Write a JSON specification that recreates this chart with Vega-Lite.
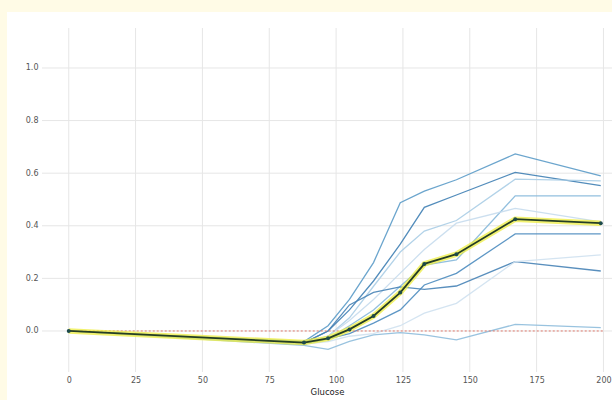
{
  "$schema": "https://vega.github.io/schema/vega-lite/v6.json",
  "width": 570,
  "height": 344,
  "autosize": {"type": "none"},
  "padding": {"left": 42, "top": 28, "right": 0, "bottom": 28},
  "background": "#fffbe6",
  "config": {
    "view": {"stroke": null},
    "axis": {"grid": false, "domain": false, "ticks": false, "labelFontSize": 8, "labelColor": "#555555", "labelFont": "DejaVu Sans", "titleFont": "DejaVu Sans", "titleFontSize": 8.5, "titleFontWeight": "normal", "titleColor": "#222222"},
    "axisX": {"labelPadding": 4, "titlePadding": 3},
    "axisY": {"labelPadding": 4}
  },
  "datasets": {
    "one": [{"k": 1}],
    "ice": [
      {"id": "L1", "Glucose": 0, "value": 0}, {"id": "L1", "Glucose": 88, "value": -0.04}, {"id": "L1", "Glucose": 97, "value": 0.02}, {"id": "L1", "Glucose": 105, "value": 0.12}, {"id": "L1", "Glucose": 114, "value": 0.26}, {"id": "L1", "Glucose": 124, "value": 0.488}, {"id": "L1", "Glucose": 133, "value": 0.532}, {"id": "L1", "Glucose": 145, "value": 0.575}, {"id": "L1", "Glucose": 167, "value": 0.673}, {"id": "L1", "Glucose": 199, "value": 0.59},
      {"id": "L2", "Glucose": 0, "value": 0}, {"id": "L2", "Glucose": 88, "value": -0.045}, {"id": "L2", "Glucose": 97, "value": 0.0}, {"id": "L2", "Glucose": 105, "value": 0.08}, {"id": "L2", "Glucose": 114, "value": 0.19}, {"id": "L2", "Glucose": 124, "value": 0.33}, {"id": "L2", "Glucose": 133, "value": 0.47}, {"id": "L2", "Glucose": 145, "value": 0.517}, {"id": "L2", "Glucose": 167, "value": 0.603}, {"id": "L2", "Glucose": 199, "value": 0.553},
      {"id": "L3", "Glucose": 0, "value": 0}, {"id": "L3", "Glucose": 88, "value": -0.05}, {"id": "L3", "Glucose": 97, "value": -0.02}, {"id": "L3", "Glucose": 105, "value": 0.05}, {"id": "L3", "Glucose": 114, "value": 0.17}, {"id": "L3", "Glucose": 124, "value": 0.3}, {"id": "L3", "Glucose": 133, "value": 0.38}, {"id": "L3", "Glucose": 145, "value": 0.42}, {"id": "L3", "Glucose": 167, "value": 0.577}, {"id": "L3", "Glucose": 199, "value": 0.571},
      {"id": "L4", "Glucose": 0, "value": 0}, {"id": "L4", "Glucose": 88, "value": -0.05}, {"id": "L4", "Glucose": 97, "value": -0.03}, {"id": "L4", "Glucose": 105, "value": 0.02}, {"id": "L4", "Glucose": 114, "value": 0.08}, {"id": "L4", "Glucose": 124, "value": 0.17}, {"id": "L4", "Glucose": 133, "value": 0.25}, {"id": "L4", "Glucose": 145, "value": 0.27}, {"id": "L4", "Glucose": 167, "value": 0.514}, {"id": "L4", "Glucose": 199, "value": 0.514},
      {"id": "L5", "Glucose": 0, "value": 0}, {"id": "L5", "Glucose": 88, "value": -0.045}, {"id": "L5", "Glucose": 97, "value": -0.02}, {"id": "L5", "Glucose": 105, "value": 0.04}, {"id": "L5", "Glucose": 114, "value": 0.12}, {"id": "L5", "Glucose": 124, "value": 0.22}, {"id": "L5", "Glucose": 133, "value": 0.31}, {"id": "L5", "Glucose": 145, "value": 0.41}, {"id": "L5", "Glucose": 167, "value": 0.466}, {"id": "L5", "Glucose": 199, "value": 0.415},
      {"id": "L6", "Glucose": 0, "value": 0}, {"id": "L6", "Glucose": 88, "value": -0.05}, {"id": "L6", "Glucose": 97, "value": -0.03}, {"id": "L6", "Glucose": 105, "value": -0.01}, {"id": "L6", "Glucose": 114, "value": 0.03}, {"id": "L6", "Glucose": 124, "value": 0.08}, {"id": "L6", "Glucose": 133, "value": 0.175}, {"id": "L6", "Glucose": 145, "value": 0.219}, {"id": "L6", "Glucose": 167, "value": 0.369}, {"id": "L6", "Glucose": 199, "value": 0.369},
      {"id": "L7", "Glucose": 0, "value": 0}, {"id": "L7", "Glucose": 88, "value": -0.045}, {"id": "L7", "Glucose": 97, "value": 0.0}, {"id": "L7", "Glucose": 105, "value": 0.099}, {"id": "L7", "Glucose": 114, "value": 0.147}, {"id": "L7", "Glucose": 124, "value": 0.168}, {"id": "L7", "Glucose": 133, "value": 0.158}, {"id": "L7", "Glucose": 145, "value": 0.171}, {"id": "L7", "Glucose": 167, "value": 0.264}, {"id": "L7", "Glucose": 199, "value": 0.228},
      {"id": "L8", "Glucose": 0, "value": 0}, {"id": "L8", "Glucose": 88, "value": -0.05}, {"id": "L8", "Glucose": 97, "value": -0.04}, {"id": "L8", "Glucose": 105, "value": -0.02}, {"id": "L8", "Glucose": 114, "value": -0.01}, {"id": "L8", "Glucose": 124, "value": 0.02}, {"id": "L8", "Glucose": 133, "value": 0.068}, {"id": "L8", "Glucose": 145, "value": 0.105}, {"id": "L8", "Glucose": 167, "value": 0.264}, {"id": "L8", "Glucose": 199, "value": 0.289},
      {"id": "L9", "Glucose": 0, "value": 0}, {"id": "L9", "Glucose": 88, "value": -0.055}, {"id": "L9", "Glucose": 97, "value": -0.07}, {"id": "L9", "Glucose": 105, "value": -0.04}, {"id": "L9", "Glucose": 114, "value": -0.015}, {"id": "L9", "Glucose": 124, "value": -0.006}, {"id": "L9", "Glucose": 133, "value": -0.015}, {"id": "L9", "Glucose": 145, "value": -0.034}, {"id": "L9", "Glucose": 167, "value": 0.025}, {"id": "L9", "Glucose": 199, "value": 0.0125}
    ],
    "pdp": [
      {"Glucose": 0, "value": 0.0}, {"Glucose": 88, "value": -0.044}, {"Glucose": 97, "value": -0.028}, {"Glucose": 105, "value": 0.006}, {"Glucose": 114, "value": 0.057}, {"Glucose": 124, "value": 0.146}, {"Glucose": 133, "value": 0.255}, {"Glucose": 145, "value": 0.292}, {"Glucose": 167, "value": 0.425}, {"Glucose": 199, "value": 0.41}
    ],
    "gridx": [{"Glucose": 0}, {"Glucose": 25}, {"Glucose": 50}, {"Glucose": 75}, {"Glucose": 100}, {"Glucose": 125}, {"Glucose": 150}, {"Glucose": 175}, {"Glucose": 200}],
    "gridy": [{"value": 0}, {"value": 0.2}, {"value": 0.4}, {"value": 0.6}, {"value": 0.8}, {"value": 1.0}]
  },
  "layer": [
    {
      "data": {"name": "one"},
      "mark": {"type": "rect", "color": "white", "clip": false},
      "encoding": {
        "x": {"datum": -23.1, "type": "quantitative", "scale": {"domain": [-10, 203.2], "nice": false, "zero": false}, "axis": {"title": "Glucose", "values": [0, 25, 50, 75, 100, 125, 150, 175, 200], "zindex": 2}},
        "x2": {"datum": 400},
        "y": {"datum": -1, "type": "quantitative", "scale": {"domain": [-0.156, 1.152], "nice": false, "zero": false}, "axis": {"title": null, "values": [0, 0.2, 0.4, 0.6, 0.8, 1.0], "format": ".1f", "zindex": 2}},
        "y2": {"datum": 1.213}
      }
    },
    {
      "data": {"name": "gridx"},
      "mark": {"type": "rule", "color": "#e6e6e6", "strokeWidth": 1},
      "encoding": {
        "x": {"field": "Glucose", "type": "quantitative", "scale": {"domain": [-10, 203.2], "nice": false, "zero": false}, "axis": {"title": "Glucose", "values": [0, 25, 50, 75, 100, 125, 150, 175, 200], "zindex": 2}}
      }
    },
    {
      "data": {"name": "gridy"},
      "mark": {"type": "rule", "color": "#e6e6e6", "strokeWidth": 1},
      "encoding": {
        "y": {"field": "value", "type": "quantitative", "scale": {"domain": [-0.156, 1.152], "nice": false, "zero": false}, "axis": {"title": null, "values": [0, 0.2, 0.4, 0.6, 0.8, 1.0], "format": ".1f", "zindex": 2}}
      }
    },
    {
      "data": {"name": "ice"},
      "mark": {"type": "line", "strokeWidth": 1.3, "opacity": 0.9},
      "encoding": {
        "x": {"field": "Glucose", "type": "quantitative", "scale": {"domain": [-10, 203.2], "nice": false, "zero": false}, "axis": {"title": "Glucose", "values": [0, 25, 50, 75, 100, 125, 150, 175, 200], "zindex": 2}},
        "y": {"field": "value", "type": "quantitative", "scale": {"domain": [-0.156, 1.152], "nice": false, "zero": false}, "axis": {"title": null, "values": [0, 0.2, 0.4, 0.6, 0.8, 1.0], "format": ".1f", "zindex": 2}},
        "color": {"field": "id", "type": "nominal", "legend": null, "scale": {"domain": ["L1", "L2", "L3", "L4", "L5", "L6", "L7", "L8", "L9"], "range": ["#5b9bc8", "#3f80b4", "#aacde6", "#86b8da", "#c6dced", "#4c8cbf", "#4783b6", "#cfe1ef", "#8ebcdc"]}}
      }
    },
    {
      "data": {"name": "one"},
      "mark": {"type": "rule", "color": "#e07a6e", "strokeDash": [2, 2], "strokeWidth": 1},
      "encoding": {
        "x": {"datum": 0, "type": "quantitative", "scale": {"domain": [-10, 203.2], "nice": false, "zero": false}, "axis": {"title": "Glucose", "values": [0, 25, 50, 75, 100, 125, 150, 175, 200], "zindex": 2}},
        "x2": {"datum": 200},
        "y": {"datum": 0, "type": "quantitative", "scale": {"domain": [-0.156, 1.152], "nice": false, "zero": false}, "axis": {"title": null, "values": [0, 0.2, 0.4, 0.6, 0.8, 1.0], "format": ".1f", "zindex": 2}}
      }
    },
    {
      "data": {"name": "pdp"},
      "mark": {"type": "line", "color": "#eeee40", "strokeWidth": 5.5, "opacity": 0.75},
      "encoding": {
        "x": {"field": "Glucose", "type": "quantitative", "scale": {"domain": [-10, 203.2], "nice": false, "zero": false}, "axis": {"title": "Glucose", "values": [0, 25, 50, 75, 100, 125, 150, 175, 200], "zindex": 2}},
        "y": {"field": "value", "type": "quantitative", "scale": {"domain": [-0.156, 1.152], "nice": false, "zero": false}, "axis": {"title": null, "values": [0, 0.2, 0.4, 0.6, 0.8, 1.0], "format": ".1f", "zindex": 2}}
      }
    },
    {
      "data": {"name": "pdp"},
      "mark": {"type": "line", "color": "#243d26", "strokeWidth": 1.8},
      "encoding": {
        "x": {"field": "Glucose", "type": "quantitative", "scale": {"domain": [-10, 203.2], "nice": false, "zero": false}, "axis": {"title": "Glucose", "values": [0, 25, 50, 75, 100, 125, 150, 175, 200], "zindex": 2}},
        "y": {"field": "value", "type": "quantitative", "scale": {"domain": [-0.156, 1.152], "nice": false, "zero": false}, "axis": {"title": null, "values": [0, 0.2, 0.4, 0.6, 0.8, 1.0], "format": ".1f", "zindex": 2}}
      }
    },
    {
      "data": {"name": "pdp"},
      "mark": {"type": "circle", "color": "#1d4a4a", "size": 16, "opacity": 1},
      "encoding": {
        "x": {"field": "Glucose", "type": "quantitative", "scale": {"domain": [-10, 203.2], "nice": false, "zero": false}, "axis": {"title": "Glucose", "values": [0, 25, 50, 75, 100, 125, 150, 175, 200], "zindex": 2}},
        "y": {"field": "value", "type": "quantitative", "scale": {"domain": [-0.156, 1.152], "nice": false, "zero": false}, "axis": {"title": null, "values": [0, 0.2, 0.4, 0.6, 0.8, 1.0], "format": ".1f", "zindex": 2}}
      }
    }
  ]
}
